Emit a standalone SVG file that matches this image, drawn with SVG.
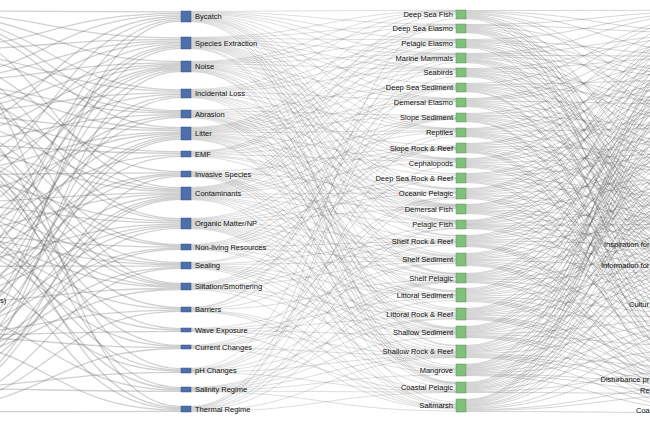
<svg xmlns="http://www.w3.org/2000/svg" width="650" height="433" viewBox="0 0 650 433">
<style>
.lk path{fill:none;stroke:#555;stroke-opacity:.28}
.l1 path{stroke-width:1.3}
.l2 path{stroke-width:.7}
.l3 path{stroke-width:.9}
.bn{fill:#4f6fab;stroke:#36508a;stroke-width:.5}
.gn{fill:#80bf7c;stroke:#5a9656;stroke-width:.5}
text{font-family:"Liberation Sans",Arial,Helvetica,sans-serif;font-size:7.5px;fill:#111}
.e{text-anchor:end}
</style>
<rect width="650" height="433" fill="#fff"/>
<g id="links" class="lk">
<g class="l1">
<path d="M-84 10.8C48 10.8 48 11.8 181 11.8M-84 48.6C48 48.6 48 13.4 181 13.4M-84 78.6C48 78.6 48 14.9 181 14.9M-84 136.6C48 136.6 48 16.5 181 16.5M-84 193.6C48 193.6 48 18.1 181 18.1M-84 285.7C48 285.7 48 19.6 181 19.6M-84 373.4C48 373.4 48 21.2 181 21.2"/>
<path d="M-84 12.4C48 12.4 48 37.8 181 37.8M-84 49.7C48 49.7 48 39.3 181 39.3M-84 79.9C48 79.9 48 40.8 181 40.8M-84 111.4C48 111.4 48 42.3 181 42.3M-84 169.3C48 169.3 48 43.8 181 43.8M-84 254.7C48 254.7 48 45.3 181 45.3M-84 287.2C48 287.2 48 46.8 181 46.8M-84 349.3C48 349.3 48 48.3 181 48.3"/>
<path d="M-84 14C48 14 48 61.6 181 61.6M-84 81.2C48 81.2 48 62.8 181 62.8M-84 112.4C48 112.4 48 64.1 181 64.1M-84 139.2C48 139.2 48 65.3 181 65.3M-84 195.9C48 195.9 48 66.5 181 66.5M-84 225.9C48 225.9 48 67.7 181 67.7M-84 255.9C48 255.9 48 68.9 181 68.9M-84 323.5C48 323.5 48 70.2 181 70.2M-84 399.9C48 399.9 48 71.4 181 71.4"/>
<path d="M-84 15.5C48 15.5 48 89.8 181 89.8M-84 52.1C48 52.1 48 91.3 181 91.3M-84 113.3C48 113.3 48 92.8 181 92.8M-84 171.1C48 171.1 48 94.3 181 94.3M-84 290.1C48 290.1 48 95.8 181 95.8M-84 376.1C48 376.1 48 97.3 181 97.3"/>
<path d="M-84 17.1C48 17.1 48 110.7 181 110.7M-84 53.2C48 53.2 48 112 181 112M-84 83.7C48 83.7 48 113.3 181 113.3M-84 141.7C48 141.7 48 114.7 181 114.7M-84 228.2C48 228.2 48 116 181 116M-84 291.6C48 291.6 48 117.3 181 117.3"/>
<path d="M-84 18.7C48 18.7 48 127.7 181 127.7M-84 84.9C48 84.9 48 129.2 181 129.2M-84 115.2C48 115.2 48 130.6 181 130.6M-84 172.9C48 172.9 48 132.1 181 132.1M-84 199.4C48 199.4 48 133.5 181 133.5M-84 259.4C48 259.4 48 134.9 181 134.9M-84 326.5C48 326.5 48 136.4 181 136.4M-84 352.9C48 352.9 48 137.8 181 137.8M-84 377.9C48 377.9 48 139.3 181 139.3"/>
<path d="M-84 116.2C48 116.2 48 151.8 181 151.8M-84 144.2C48 144.2 48 153.3 181 153.3M-84 230.5C48 230.5 48 154.8 181 154.8M-84 327.5C48 327.5 48 156.3 181 156.3"/>
<path d="M-84 56.7C48 56.7 48 171.6 181 171.6M-84 174.7C48 174.7 48 172.8 181 172.8M-84 261.7C48 261.7 48 174 181 174M-84 296C48 296 48 175.2 181 175.2M-84 403.6C48 403.6 48 176.4 181 176.4"/>
<path d="M-84 23.4C48 23.4 48 187.7 181 187.7M-84 88.7C48 88.7 48 189 181 189M-84 118.1C48 118.1 48 190.3 181 190.3M-84 146.7C48 146.7 48 191.6 181 191.6M-84 202.9C48 202.9 48 192.9 181 192.9M-84 232.9C48 232.9 48 194.2 181 194.2M-84 297.5C48 297.5 48 195.5 181 195.5M-84 355.6C48 355.6 48 196.8 181 196.8M-84 380.6C48 380.6 48 198.1 181 198.1M-84 404.3C48 404.3 48 199.4 181 199.4"/>
<path d="M-84 59C48 59 48 218.7 181 218.7M-84 90C48 90 48 220.1 181 220.1M-84 176.5C48 176.5 48 221.4 181 221.4M-84 204C48 204 48 222.8 181 222.8M-84 264C48 264 48 224.2 181 224.2M-84 299C48 299 48 225.6 181 225.6M-84 330.5C48 330.5 48 226.9 181 226.9M-84 381.5C48 381.5 48 228.3 181 228.3"/>
<path d="M-84 120C48 120 48 244.6 181 244.6M-84 149.2C48 149.2 48 245.8 181 245.8M-84 235.2C48 235.2 48 247 181 247M-84 331.5C48 331.5 48 248.2 181 248.2M-84 357.3C48 357.3 48 249.4 181 249.4"/>
<path d="M-84 150.5C48 150.5 48 262.6 181 262.6M-84 206.3C48 206.3 48 263.8 181 263.8M-84 236.3C48 236.3 48 264.9 181 264.9M-84 266.3C48 266.3 48 266.1 181 266.1M-84 358.2C48 358.2 48 267.3 181 267.3M-84 406.5C48 406.5 48 268.4 181 268.4"/>
<path d="M-84 62.5C48 62.5 48 283.5 181 283.5M-84 121.9C48 121.9 48 284.5 181 284.5M-84 151.8C48 151.8 48 285.5 181 285.5M-84 207.5C48 207.5 48 286.5 181 286.5M-84 237.5C48 237.5 48 287.5 181 287.5M-84 303.4C48 303.4 48 288.5 181 288.5M-84 359.1C48 359.1 48 289.5 181 289.5"/>
<path d="M-84 153C48 153 48 307.6 181 307.6M-84 238.7C48 238.7 48 308.9 181 308.9M-84 334.5C48 334.5 48 310.1 181 310.1M-84 408C48 408 48 311.4 181 311.4"/>
<path d="M-84 154.3C48 154.3 48 328.7 181 328.7M-84 239.8C48 239.8 48 330 181 330M-84 335.5C48 335.5 48 331.3 181 331.3"/>
<path d="M-84 155.5C48 155.5 48 345.5 181 345.5M-84 241C48 241 48 346.5 181 346.5M-84 336.5C48 336.5 48 347.5 181 347.5M-84 409.5C48 409.5 48 348.5 181 348.5"/>
<path d="M-84 98.8C48 98.8 48 368.6 181 368.6M-84 212.1C48 212.1 48 369.9 181 369.9M-84 272.1C48 272.1 48 371.1 181 371.1M-84 387.7C48 387.7 48 372.4 181 372.4"/>
<path d="M-84 126.6C48 126.6 48 387.6 181 387.6M-84 213.3C48 213.3 48 388.9 181 388.9M-84 310.7C48 310.7 48 390.1 181 390.1M-84 388.6C48 388.6 48 391.4 181 391.4"/>
<path d="M-84 39.2C48 39.2 48 406.6 181 406.6M-84 184.5C48 184.5 48 407.8 181 407.8M-84 244.5C48 244.5 48 409 181 409M-84 339.5C48 339.5 48 410.2 181 410.2M-84 411.7C48 411.7 48 411.4 181 411.4"/>
</g>
<g class="l2">
<path d="M191 11.3C323 11.3 323 10.3 456 10.3M191 12C323 12 323 24.3 456 24.3M191 12.7C323 12.7 323 39.3 456 39.3M191 13.4C323 13.4 323 53.3 456 53.3M191 14.1C323 14.1 323 68.3 456 68.3M191 14.8C323 14.8 323 98.3 456 98.3M191 15.5C323 15.5 323 128.3 456 128.3M191 16.2C323 16.2 323 158.3 456 158.3M191 16.8C323 16.8 323 188.3 456 188.3M191 17.5C323 17.5 323 204.3 456 204.3M191 18.2C323 18.2 323 220.3 456 220.3M191 18.9C323 18.9 323 235.3 456 235.3M191 19.6C323 19.6 323 273.3 456 273.3M191 20.3C323 20.3 323 308.3 456 308.3M191 21C323 21 323 345.3 456 345.3M191 21.7C323 21.7 323 382.3 456 382.3"/>
<path d="M191 37.3C323 37.3 323 10.8 456 10.8M191 38C323 38 323 24.8 456 24.8M191 38.6C323 38.6 323 39.8 456 39.8M191 39.3C323 39.3 323 53.8 456 53.8M191 40C323 40 323 68.8 456 68.8M191 40.6C323 40.6 323 83.8 456 83.8M191 41.3C323 41.3 323 98.8 456 98.8M191 42C323 42 323 128.8 456 128.8M191 42.6C323 42.6 323 158.8 456 158.8M191 43.3C323 43.3 323 173.8 456 173.8M191 44C323 44 323 188.9 456 188.9M191 44.6C323 44.6 323 204.8 456 204.8M191 45.3C323 45.3 323 220.8 456 220.8M191 46C323 46 323 235.9 456 235.9M191 46.6C323 46.6 323 254 456 254M191 47.3C323 47.3 323 273.8 456 273.8M191 48C323 48 323 346 456 346M191 48.6C323 48.6 323 382.9 456 382.9"/>
<path d="M191 61.3C323 61.3 323 11.3 456 11.3M191 62C323 62 323 25.3 456 25.3M191 62.7C323 62.7 323 40.3 456 40.3M191 63.4C323 63.4 323 54.3 456 54.3M191 64.1C323 64.1 323 69.3 456 69.3M191 64.8C323 64.8 323 99.3 456 99.3M191 65.5C323 65.5 323 129.3 456 129.3M191 66.2C323 66.2 323 159.3 456 159.3M191 66.8C323 66.8 323 189.4 456 189.4M191 67.5C323 67.5 323 205.3 456 205.3M191 68.2C323 68.2 323 221.3 456 221.3M191 68.9C323 68.9 323 274.3 456 274.3M191 69.6C323 69.6 323 309.6 456 309.6M191 70.3C323 70.3 323 327.6 456 327.6M191 71C323 71 323 365.6 456 365.6M191 71.7C323 71.7 323 383.4 456 383.4"/>
<path d="M191 89.3C323 89.3 323 11.8 456 11.8M191 90C323 90 323 40.8 456 40.8M191 90.7C323 90.7 323 54.8 456 54.8M191 91.4C323 91.4 323 69.8 456 69.8M191 92.1C323 92.1 323 99.8 456 99.8M191 92.8C323 92.8 323 129.8 456 129.8M191 93.5C323 93.5 323 159.8 456 159.8M191 94.2C323 94.2 323 205.8 456 205.8M191 94.9C323 94.9 323 221.8 456 221.8M191 95.6C323 95.6 323 255.3 456 255.3M191 96.3C323 96.3 323 290.6 456 290.6M191 97C323 97 323 328.2 456 328.2M191 97.7C323 97.7 323 384 456 384"/>
<path d="M191 110.3C323 110.3 323 85.3 456 85.3M191 111C323 111 323 115.3 456 115.3M191 111.7C323 111.7 323 145.3 456 145.3M191 112.3C323 112.3 323 175.3 456 175.3M191 113C323 113 323 206.3 456 206.3M191 113.7C323 113.7 323 237.8 456 237.8M191 114.3C323 114.3 323 256 456 256M191 115C323 115 323 291.3 456 291.3M191 115.7C323 115.7 323 310.8 456 310.8M191 116.3C323 116.3 323 328.8 456 328.8M191 117C323 117 323 348 456 348M191 117.7C323 117.7 323 402 456 402"/>
<path d="M191 127.3C323 127.3 323 12.8 456 12.8M191 128C323 128 323 26.8 456 26.8M191 128.7C323 128.7 323 41.8 456 41.8M191 129.4C323 129.4 323 55.8 456 55.8M191 130.1C323 130.1 323 70.8 456 70.8M191 130.8C323 130.8 323 85.8 456 85.8M191 131.4C323 131.4 323 100.8 456 100.8M191 132.1C323 132.1 323 115.8 456 115.8M191 132.8C323 132.8 323 130.8 456 130.8M191 133.5C323 133.5 323 160.8 456 160.8M191 134.2C323 134.2 323 191.2 456 191.2M191 134.9C323 134.9 323 206.8 456 206.8M191 135.5C323 135.5 323 222.8 456 222.8M191 136.2C323 136.2 323 256.7 456 256.7M191 136.9C323 136.9 323 275.8 456 275.8M191 137.6C323 137.6 323 292 456 292M191 138.3C323 138.3 323 329.5 456 329.5M191 139C323 139 323 367.5 456 367.5M191 139.7C323 139.7 323 385.2 456 385.2"/>
<path d="M191 151.3C323 151.3 323 27.3 456 27.3M191 152C323 152 323 42.3 456 42.3M191 152.7C323 152.7 323 56.3 456 56.3M191 153.3C323 153.3 323 101.3 456 101.3M191 154C323 154 323 131.3 456 131.3M191 154.7C323 154.7 323 161.3 456 161.3M191 155.3C323 155.3 323 207.3 456 207.3M191 156C323 156 323 223.3 456 223.3M191 156.7C323 156.7 323 276.3 456 276.3"/>
<path d="M191 171.3C323 171.3 323 146.8 456 146.8M191 172C323 172 323 192.3 456 192.3M191 172.7C323 172.7 323 239.7 456 239.7M191 173.3C323 173.3 323 258.1 456 258.1M191 174C323 174 323 312.7 456 312.7M191 174.7C323 174.7 323 330.7 456 330.7M191 175.3C323 175.3 323 350.1 456 350.1M191 176C323 176 323 368.7 456 368.7M191 176.7C323 176.7 323 404.1 456 404.1"/>
<path d="M191 187.3C323 187.3 323 14.3 456 14.3M191 188C323 188 323 28.3 456 28.3M191 188.7C323 188.7 323 43.3 456 43.3M191 189.4C323 189.4 323 57.3 456 57.3M191 190.1C323 190.1 323 72.3 456 72.3M191 190.8C323 190.8 323 87.3 456 87.3M191 191.4C323 191.4 323 117.3 456 117.3M191 192.1C323 192.1 323 132.3 456 132.3M191 192.8C323 192.8 323 147.3 456 147.3M191 193.5C323 193.5 323 162.3 456 162.3M191 194.2C323 194.2 323 192.9 456 192.9M191 194.9C323 194.9 323 208.3 456 208.3M191 195.5C323 195.5 323 224.3 456 224.3M191 196.2C323 196.2 323 258.7 456 258.7M191 196.9C323 196.9 323 277.3 456 277.3M191 197.6C323 197.6 323 294.2 456 294.2M191 198.3C323 198.3 323 331.3 456 331.3M191 199C323 199 323 369.3 456 369.3M191 199.7C323 199.7 323 404.7 456 404.7"/>
<path d="M191 218.3C323 218.3 323 87.8 456 87.8M191 219C323 219 323 117.8 456 117.8M191 219.7C323 219.7 323 147.8 456 147.8M191 220.4C323 220.4 323 177.8 456 177.8M191 221.1C323 221.1 323 193.4 456 193.4M191 221.8C323 221.8 323 208.8 456 208.8M191 222.5C323 222.5 323 241 456 241M191 223.2C323 223.2 323 259.4 456 259.4M191 223.8C323 223.8 323 277.8 456 277.8M191 224.5C323 224.5 323 294.9 456 294.9M191 225.2C323 225.2 323 314 456 314M191 225.9C323 225.9 323 332 456 332M191 226.6C323 226.6 323 351.4 456 351.4M191 227.3C323 227.3 323 370 456 370M191 228C323 228 323 387.4 456 387.4M191 228.7C323 228.7 323 405.4 456 405.4"/>
<path d="M191 244.3C323 244.3 323 88.3 456 88.3M191 245C323 245 323 118.3 456 118.3M191 245.7C323 245.7 323 148.3 456 148.3M191 246.3C323 246.3 323 178.3 456 178.3M191 247C323 247 323 241.6 456 241.6M191 247.7C323 247.7 323 260.1 456 260.1M191 248.3C323 248.3 323 295.6 456 295.6M191 249C323 249 323 332.6 456 332.6M191 249.7C323 249.7 323 352.1 456 352.1"/>
<path d="M191 262.4C323 262.4 323 118.8 456 118.8M191 263.1C323 263.1 323 148.8 456 148.8M191 263.8C323 263.8 323 242.2 456 242.2M191 264.5C323 264.5 323 260.8 456 260.8M191 265.2C323 265.2 323 296.3 456 296.3M191 265.9C323 265.9 323 315.2 456 315.2M191 266.6C323 266.6 323 333.2 456 333.2M191 267.3C323 267.3 323 352.8 456 352.8M191 268C323 268 323 371.2 456 371.2M191 268.7C323 268.7 323 406.8 456 406.8"/>
<path d="M191 283.4C323 283.4 323 89.3 456 89.3M191 284.1C323 284.1 323 119.3 456 119.3M191 284.8C323 284.8 323 149.3 456 149.3M191 285.5C323 285.5 323 179.3 456 179.3M191 286.2C323 286.2 323 242.9 456 242.9M191 286.9C323 286.9 323 261.5 456 261.5M191 287.6C323 287.6 323 315.9 456 315.9M191 288.3C323 288.3 323 333.9 456 333.9M191 289C323 289 323 353.5 456 353.5M191 289.7C323 289.7 323 407.5 456 407.5"/>
<path d="M191 307.3C323 307.3 323 45.8 456 45.8M191 307.9C323 307.9 323 59.8 456 59.8M191 308.6C323 308.6 323 134.8 456 134.8M191 309.2C323 309.2 323 226.8 456 226.8M191 309.8C323 309.8 323 279.8 456 279.8M191 310.4C323 310.4 323 372.5 456 372.5M191 311.1C323 311.1 323 389.7 456 389.7M191 311.7C323 311.7 323 408.1 456 408.1"/>
<path d="M191 328.3C323 328.3 323 262.8 456 262.8M191 329C323 329 323 298.5 456 298.5M191 329.7C323 329.7 323 317.1 456 317.1M191 330.3C323 330.3 323 335.1 456 335.1M191 331C323 331 323 354.8 456 354.8M191 331.7C323 331.7 323 408.8 456 408.8"/>
<path d="M191 345.3C323 345.3 323 196.9 456 196.9M191 346C323 346 323 244.8 456 244.8M191 346.7C323 346.7 323 263.5 456 263.5M191 347.3C323 347.3 323 280.8 456 280.8M191 348C323 348 323 355.5 456 355.5M191 348.7C323 348.7 323 390.9 456 390.9"/>
<path d="M191 368.3C323 368.3 323 47.3 456 47.3M191 368.9C323 368.9 323 166.3 456 166.3M191 369.6C323 369.6 323 197.4 456 197.4M191 370.2C323 370.2 323 228.3 456 228.3M191 370.8C323 370.8 323 281.3 456 281.3M191 371.4C323 371.4 323 318.4 456 318.4M191 372.1C323 372.1 323 356.2 456 356.2M191 372.7C323 372.7 323 391.4 456 391.4"/>
<path d="M191 387.3C323 387.3 323 281.8 456 281.8M191 387.9C323 387.9 323 300.6 456 300.6M191 388.6C323 388.6 323 319 456 319M191 389.2C323 389.2 323 337 456 337M191 389.8C323 389.8 323 356.9 456 356.9M191 390.4C323 390.4 323 375 456 375M191 391.1C323 391.1 323 392 456 392M191 391.7C323 391.7 323 410.9 456 410.9"/>
<path d="M191 406.3C323 406.3 323 18.7 456 18.7M191 407C323 407 323 62.3 456 62.3M191 407.7C323 407.7 323 76.7 456 76.7M191 408.3C323 408.3 323 136.7 456 136.7M191 409C323 409 323 198.6 456 198.6M191 409.7C323 409.7 323 228.7 456 228.7M191 410.3C323 410.3 323 282.3 456 282.3M191 411C323 411 323 357.5 456 357.5M191 411.7C323 411.7 323 392.6 456 392.6"/>
</g>
<g class="l3">
<path d="M466 10.5C598 10.5 598 10.3 731 10.3M466 11.4C598 11.4 598 32.3 731 32.3M466 12.3C598 12.3 598 54.3 731 54.3M466 13.2C598 13.2 598 100.3 731 100.3M466 14.1C598 14.1 598 122.4 731 122.4M466 15C598 15 598 192.3 731 192.3M466 15.9C598 15.9 598 238.2 731 238.2M466 16.8C598 16.8 598 256.4 731 256.4M466 17.7C598 17.7 598 282.9 731 282.9M466 18.6C598 18.6 598 356.3 731 356.3"/>
<path d="M466 24.5C598 24.5 598 11 731 11M466 25.4C598 25.4 598 33 731 33M466 26.3C598 26.3 598 77.1 731 77.1M466 27.2C598 27.2 598 123.1 731 123.1M466 28.1C598 28.1 598 169.1 731 169.1M466 29C598 29 598 215.1 731 215.1M466 29.9C598 29.9 598 238.7 731 238.7M466 30.8C598 30.8 598 257.2 731 257.2M466 31.7C598 31.7 598 284.6 731 284.6M466 32.6C598 32.6 598 333.1 731 333.1"/>
<path d="M466 39.5C598 39.5 598 11.6 731 11.6M466 40.4C598 40.4 598 55.6 731 55.6M466 41.3C598 41.3 598 77.8 731 77.8M466 42.2C598 42.2 598 101.6 731 101.6M466 43.1C598 43.1 598 147.6 731 147.6M466 44C598 44 598 193.6 731 193.6M466 44.9C598 44.9 598 239.2 731 239.2M466 45.8C598 45.8 598 258 731 258M466 46.7C598 46.7 598 286.4 731 286.4M466 47.6C598 47.6 598 374.2 731 374.2"/>
<path d="M466 53.5C598 53.5 598 12.2 731 12.2M466 54.4C598 54.4 598 34.2 731 34.2M466 55.3C598 55.3 598 56.2 731 56.2M466 56.2C598 56.2 598 78.5 731 78.5M466 57.1C598 57.1 598 124.5 731 124.5M466 58C598 58 598 148.2 731 148.2M466 58.9C598 58.9 598 216.5 731 216.5M466 59.8C598 59.8 598 239.7 731 239.7M466 60.7C598 60.7 598 258.8 731 258.8M466 61.6C598 61.6 598 288.2 731 288.2M466 62.5C598 62.5 598 358 731 358"/>
<path d="M466 68.5C598 68.5 598 34.9 731 34.9M466 69.4C598 69.4 598 56.9 731 56.9M466 70.3C598 70.3 598 102.9 731 102.9M466 71.2C598 71.2 598 125.2 731 125.2M466 72.1C598 72.1 598 171.2 731 171.2M466 73C598 73 598 194.9 731 194.9M466 73.9C598 73.9 598 240.2 731 240.2M466 74.8C598 74.8 598 259.6 731 259.6M466 75.7C598 75.7 598 289.9 731 289.9M466 76.6C598 76.6 598 335.2 731 335.2"/>
<path d="M466 83.5C598 83.5 598 13.5 731 13.5M466 84.4C598 84.4 598 80 731 80M466 85.3C598 85.3 598 103.5 731 103.5M466 86.2C598 86.2 598 149.5 731 149.5M466 87.1C598 87.1 598 172 731 172M466 88C598 88 598 218 731 218M466 88.9C598 88.9 598 260.4 731 260.4M466 89.8C598 89.8 598 291.7 731 291.7M466 90.7C598 90.7 598 375.6 731 375.6M466 91.6C598 91.6 598 388.5 731 388.5"/>
<path d="M466 98.5C598 98.5 598 14.2 731 14.2M466 99.4C598 99.4 598 36.2 731 36.2M466 100.3C598 100.3 598 58.2 731 58.2M466 101.2C598 101.2 598 104.2 731 104.2M466 102.1C598 102.1 598 150.2 731 150.2M466 103C598 103 598 196.2 731 196.2M466 103.9C598 103.9 598 241.1 731 241.1M466 104.8C598 104.8 598 261.2 731 261.2M466 105.7C598 105.7 598 293.4 731 293.4M466 106.6C598 106.6 598 359.6 731 359.6"/>
<path d="M466 113.5C598 113.5 598 36.8 731 36.8M466 114.4C598 114.4 598 81.4 731 81.4M466 115.3C598 115.3 598 127.4 731 127.4M466 116.2C598 116.2 598 150.8 731 150.8M466 117.1C598 117.1 598 196.8 731 196.8M466 118C598 118 598 219.4 731 219.4M466 118.9C598 118.9 598 262 731 262M466 119.8C598 119.8 598 295.2 731 295.2M466 120.7C598 120.7 598 376.6 731 376.6M466 121.6C598 121.6 598 389.1 731 389.1"/>
<path d="M466 128.5C598 128.5 598 15.4 731 15.4M466 129.4C598 129.4 598 59.4 731 59.4M466 130.3C598 130.3 598 82.1 731 82.1M466 131.2C598 131.2 598 128.1 731 128.1M466 132.1C598 132.1 598 174.1 731 174.1M466 133C598 133 598 220.1 731 220.1M466 133.9C598 133.9 598 242.1 731 242.1M466 134.8C598 134.8 598 262.8 731 262.8M466 135.7C598 135.7 598 297 731 297M466 136.6C598 136.6 598 338.1 731 338.1"/>
<path d="M466 143.5C598 143.5 598 38.1 731 38.1M466 144.4C598 144.4 598 60.1 731 60.1M466 145.3C598 145.3 598 106.1 731 106.1M466 146.2C598 146.2 598 152.1 731 152.1M466 147.1C598 147.1 598 174.8 731 174.8M466 148C598 148 598 220.8 731 220.8M466 148.9C598 148.9 598 263.6 731 263.6M466 149.8C598 149.8 598 298.7 731 298.7M466 150.7C598 150.7 598 361.3 731 361.3M466 151.6C598 151.6 598 377.6 731 377.6M466 152.5C598 152.5 598 404.3 731 404.3"/>
<path d="M466 158.5C598 158.5 598 16.7 731 16.7M466 159.5C598 159.5 598 38.7 731 38.7M466 160.5C598 160.5 598 83.6 731 83.6M466 161.5C598 161.5 598 106.7 731 106.7M466 162.5C598 162.5 598 152.7 731 152.7M466 163.5C598 163.5 598 198.7 731 198.7M466 164.5C598 164.5 598 243 731 243M466 165.5C598 165.5 598 264.4 731 264.4M466 166.5C598 166.5 598 300.5 731 300.5M466 167.5C598 167.5 598 339.6 731 339.6"/>
<path d="M466 173.5C598 173.5 598 61.4 731 61.4M466 174.5C598 174.5 598 84.3 731 84.3M466 175.5C598 175.5 598 130.3 731 130.3M466 176.5C598 176.5 598 153.4 731 153.4M466 177.5C598 177.5 598 199.4 731 199.4M466 178.5C598 178.5 598 222.3 731 222.3M466 179.5C598 179.5 598 265.2 731 265.2M466 180.5C598 180.5 598 302.2 731 302.2M466 181.5C598 181.5 598 362.4 731 362.4M466 182.5C598 182.5 598 390.2 731 390.2"/>
<path d="M466 188.5C598 188.5 598 18 731 18M466 189.5C598 189.5 598 40 731 40M466 190.5C598 190.5 598 62 731 62M466 191.5C598 191.5 598 108 731 108M466 192.5C598 192.5 598 131 731 131M466 193.5C598 193.5 598 177 731 177M466 194.5C598 194.5 598 223 731 223M466 195.5C598 195.5 598 244 731 244M466 196.5C598 196.5 598 304 731 304M466 197.5C598 197.5 598 341 731 341M466 198.5C598 198.5 598 379 731 379"/>
<path d="M466 204.5C598 204.5 598 18.6 731 18.6M466 205.4C598 205.4 598 40.6 731 40.6M466 206.3C598 206.3 598 85.7 731 85.7M466 207.2C598 207.2 598 108.6 731 108.6M466 208.1C598 208.1 598 154.6 731 154.6M466 209C598 209 598 177.7 731 177.7M466 209.9C598 209.9 598 223.7 731 223.7M466 210.8C598 210.8 598 244.5 731 244.5M466 211.7C598 211.7 598 266.8 731 266.8M466 212.6C598 212.6 598 305.8 731 305.8M466 213.5C598 213.5 598 363.6 731 363.6"/>
<path d="M466 220.4C598 220.4 598 19.3 731 19.3M466 221.2C598 221.2 598 63.3 731 63.3M466 222C598 222 598 86.4 731 86.4M466 222.9C598 222.9 598 132.4 731 132.4M466 223.7C598 223.7 598 155.3 731 155.3M466 224.5C598 224.5 598 201.3 731 201.3M466 225.3C598 225.3 598 224.4 731 224.4M466 226.1C598 226.1 598 245 731 245M466 227C598 227 598 267.6 731 267.6M466 227.8C598 227.8 598 307.5 731 307.5M466 228.6C598 228.6 598 342.4 731 342.4"/>
<path d="M466 235.5C598 235.5 598 41.9 731 41.9M466 236.4C598 236.4 598 87.2 731 87.2M466 237.3C598 237.3 598 109.9 731 109.9M466 238.2C598 238.2 598 155.9 731 155.9M466 239.2C598 239.2 598 179.2 731 179.2M466 240.1C598 240.1 598 225.2 731 225.2M466 241C598 241 598 245.4 731 245.4M466 241.9C598 241.9 598 268.4 731 268.4M466 242.8C598 242.8 598 309.3 731 309.3M466 243.8C598 243.8 598 364.7 731 364.7M466 244.7C598 244.7 598 380.4 731 380.4M466 245.6C598 245.6 598 391.3 731 391.3M466 246.5C598 246.5 598 407.7 731 407.7"/>
<path d="M466 253.5C598 253.5 598 20.6 731 20.6M466 254.5C598 254.5 598 64.6 731 64.6M466 255.5C598 255.5 598 87.9 731 87.9M466 256.5C598 256.5 598 133.9 731 133.9M466 257.5C598 257.5 598 179.9 731 179.9M466 258.5C598 258.5 598 202.6 731 202.6M466 259.5C598 259.5 598 245.9 731 245.9M466 260.5C598 260.5 598 269.2 731 269.2M466 261.5C598 261.5 598 311 731 311M466 262.5C598 262.5 598 343.9 731 343.9M466 263.5C598 263.5 598 380.9 731 380.9M466 264.5C598 264.5 598 391.6 731 391.6M466 265.5C598 265.5 598 408.2 731 408.2"/>
<path d="M466 273.5C598 273.5 598 43.2 731 43.2M466 274.4C598 274.4 598 65.2 731 65.2M466 275.3C598 275.3 598 111.2 731 111.2M466 276.2C598 276.2 598 134.6 731 134.6M466 277.1C598 277.1 598 180.6 731 180.6M466 278C598 278 598 203.2 731 203.2M466 278.9C598 278.9 598 246.4 731 246.4M466 279.8C598 279.8 598 270 731 270M466 280.7C598 280.7 598 312.8 731 312.8M466 281.6C598 281.6 598 365.8 731 365.8M466 282.5C598 282.5 598 391.9 731 391.9"/>
<path d="M466 288.5C598 288.5 598 21.8 731 21.8M466 289.6C598 289.6 598 65.8 731 65.8M466 290.7C598 290.7 598 89.3 731 89.3M466 291.8C598 291.8 598 135.3 731 135.3M466 292.8C598 292.8 598 157.8 731 157.8M466 293.9C598 293.9 598 203.8 731 203.8M466 295C598 295 598 227.3 731 227.3M466 296.1C598 296.1 598 270.8 731 270.8M466 297.2C598 297.2 598 314.6 731 314.6M466 298.2C598 298.2 598 345.3 731 345.3M466 299.3C598 299.3 598 381.9 731 381.9M466 300.4C598 300.4 598 392.2 731 392.2M466 301.5C598 301.5 598 409.4 731 409.4"/>
<path d="M466 308.5C598 308.5 598 44.5 731 44.5M466 309.4C598 309.4 598 90 731 90M466 310.3C598 310.3 598 112.5 731 112.5M466 311.2C598 311.2 598 158.5 731 158.5M466 312.2C598 312.2 598 182 731 182M466 313.1C598 313.1 598 204.5 731 204.5M466 314C598 314 598 247.4 731 247.4M466 314.9C598 314.9 598 271.6 731 271.6M466 315.8C598 315.8 598 316.3 731 316.3M466 316.8C598 316.8 598 366.9 731 366.9M466 317.7C598 317.7 598 382.4 731 382.4M466 318.6C598 318.6 598 392.5 731 392.5M466 319.5C598 319.5 598 409.9 731 409.9"/>
<path d="M466 326.5C598 326.5 598 23.1 731 23.1M466 327.4C598 327.4 598 67.1 731 67.1M466 328.3C598 328.3 598 90.8 731 90.8M466 329.2C598 329.2 598 136.8 731 136.8M466 330.2C598 330.2 598 159.1 731 159.1M466 331.1C598 331.1 598 205.1 731 205.1M466 332C598 332 598 228.8 731 228.8M466 332.9C598 332.9 598 272.4 731 272.4M466 333.8C598 333.8 598 318.1 731 318.1M466 334.8C598 334.8 598 346.8 731 346.8M466 335.7C598 335.7 598 382.8 731 382.8M466 336.6C598 336.6 598 392.7 731 392.7M466 337.5C598 337.5 598 410.5 731 410.5"/>
<path d="M466 345.5C598 345.5 598 45.8 731 45.8M466 346.5C598 346.5 598 67.8 731 67.8M466 347.5C598 347.5 598 113.8 731 113.8M466 348.5C598 348.5 598 137.5 731 137.5M466 349.5C598 349.5 598 183.5 731 183.5M466 350.5C598 350.5 598 229.5 731 229.5M466 351.5C598 351.5 598 248.3 731 248.3M466 352.5C598 352.5 598 273.2 731 273.2M466 353.5C598 353.5 598 319.8 731 319.8M466 354.5C598 354.5 598 368 731 368M466 355.5C598 355.5 598 383.3 731 383.3M466 356.5C598 356.5 598 393 731 393M466 357.5C598 357.5 598 411 731 411"/>
<path d="M466 364.4C598 364.4 598 24.4 731 24.4M466 365.3C598 365.3 598 46.4 731 46.4M466 366.1C598 366.1 598 92.2 731 92.2M466 367C598 367 598 114.4 731 114.4M466 367.9C598 367.9 598 160.4 731 160.4M466 368.7C598 368.7 598 184.2 731 184.2M466 369.6C598 369.6 598 230.2 731 230.2M466 370.4C598 370.4 598 248.8 731 248.8M466 371.3C598 371.3 598 274 731 274M466 372.1C598 372.1 598 321.6 731 321.6M466 373C598 373 598 348.2 731 348.2M466 373.9C598 373.9 598 383.8 731 383.8M466 374.7C598 374.7 598 393.3 731 393.3M466 375.6C598 375.6 598 411.6 731 411.6"/>
<path d="M466 382.5C598 382.5 598 25 731 25M466 383.4C598 383.4 598 69 731 69M466 384.3C598 384.3 598 92.9 731 92.9M466 385.2C598 385.2 598 115 731 115M466 386.1C598 386.1 598 161 731 161M466 387C598 387 598 207 731 207M466 388C598 388 598 230.9 731 230.9M466 388.9C598 388.9 598 249.3 731 249.3M466 389.8C598 389.8 598 274.8 731 274.8M466 390.7C598 390.7 598 323.4 731 323.4M466 391.6C598 391.6 598 369.2 731 369.2M466 392.5C598 392.5 598 393.6 731 393.6"/>
<path d="M466 399.5C598 399.5 598 47.7 731 47.7M466 400.4C598 400.4 598 69.7 731 69.7M466 401.3C598 401.3 598 93.6 731 93.6M466 402.2C598 402.2 598 139.6 731 139.6M466 403.2C598 403.2 598 161.7 731 161.7M466 404.1C598 404.1 598 185.6 731 185.6M466 405C598 405 598 231.6 731 231.6M466 405.9C598 405.9 598 249.8 731 249.8M466 406.8C598 406.8 598 275.6 731 275.6M466 407.8C598 407.8 598 325.1 731 325.1M466 408.7C598 408.7 598 349.6 731 349.6M466 409.6C598 409.6 598 384.8 731 384.8M466 410.5C598 410.5 598 393.9 731 393.9M466 411.5C598 411.5 598 412.7 731 412.7"/>
</g>
</g>
<g id="node-bycatch"><rect class="bn" x="181" y="11" width="10" height="11"/><text x="195" y="19.2">Bycatch</text></g>
<g id="node-species-extraction"><rect class="bn" x="181" y="37" width="10" height="12"/><text x="195" y="45.7">Species Extraction</text></g>
<g id="node-noise"><rect class="bn" x="181" y="61" width="10" height="11"/><text x="195" y="69.2">Noise</text></g>
<g id="node-incidental-loss"><rect class="bn" x="181" y="89" width="10" height="9"/><text x="195" y="96.2">Incidental Loss</text></g>
<g id="node-abrasion"><rect class="bn" x="181" y="110" width="10" height="8"/><text x="195" y="116.7">Abrasion</text></g>
<g id="node-litter"><rect class="bn" x="181" y="127" width="10" height="13"/><text x="195" y="136.2">Litter</text></g>
<g id="node-emf"><rect class="bn" x="181" y="151" width="10" height="6"/><text x="195" y="156.7">EMF</text></g>
<g id="node-invasive-species"><rect class="bn" x="181" y="171" width="10" height="6"/><text x="195" y="176.7">Invasive Species</text></g>
<g id="node-contaminants"><rect class="bn" x="181" y="187" width="10" height="13"/><text x="195" y="196.2">Contaminants</text></g>
<g id="node-organic-matter"><rect class="bn" x="181" y="218" width="10" height="11"/><text x="195" y="226.2">Organic Matter/NP</text></g>
<g id="node-non-living-resources"><rect class="bn" x="181" y="244" width="10" height="6"/><text x="195" y="249.7">Non-living Resources</text></g>
<g id="node-sealing"><rect class="bn" x="181" y="262" width="10" height="7"/><text x="195" y="268.2">Sealing</text></g>
<g id="node-siltation"><rect class="bn" x="181" y="283" width="10" height="7"/><text x="195" y="289.2">Siltation/Smothering</text></g>
<g id="node-barriers"><rect class="bn" x="181" y="307" width="10" height="5"/><text x="195" y="312.2">Barriers</text></g>
<g id="node-wave-exposure"><rect class="bn" x="181" y="328" width="10" height="4"/><text x="195" y="332.7">Wave Exposure</text></g>
<g id="node-current-changes"><rect class="bn" x="181" y="345" width="10" height="4"/><text x="195" y="349.7">Current Changes</text></g>
<g id="node-ph-changes"><rect class="bn" x="181" y="368" width="10" height="5"/><text x="195" y="373.2">pH Changes</text></g>
<g id="node-salinity-regime"><rect class="bn" x="181" y="387" width="10" height="5"/><text x="195" y="392.2">Salinity Regime</text></g>
<g id="node-thermal-regime"><rect class="bn" x="181" y="406" width="10" height="6"/><text x="195" y="411.7">Thermal Regime</text></g>
<g id="node-deep-sea-fish"><rect class="gn" x="456" y="10" width="10" height="9"/><text class="e" x="453" y="17.2">Deep Sea Fish</text></g>
<g id="node-deep-sea-elasmo"><rect class="gn" x="456" y="24" width="10" height="9"/><text class="e" x="453" y="31.2">Deep Sea Elasmo</text></g>
<g id="node-pelagic-elasmo"><rect class="gn" x="456" y="39" width="10" height="9"/><text class="e" x="453" y="46.2">Pelagic Elasmo</text></g>
<g id="node-marine-mammals"><rect class="gn" x="456" y="53" width="10" height="10"/><text class="e" x="453" y="60.7">Marine Mammals</text></g>
<g id="node-seabirds"><rect class="gn" x="456" y="68" width="10" height="9"/><text class="e" x="453" y="75.2">Seabirds</text></g>
<g id="node-deep-sea-sediment"><rect class="gn" x="456" y="83" width="10" height="9"/><text class="e" x="453" y="90.2">Deep Sea Sediment</text></g>
<g id="node-demersal-elasmo"><rect class="gn" x="456" y="98" width="10" height="9"/><text class="e" x="453" y="105.2">Demersal Elasmo</text></g>
<g id="node-slope-sediment"><rect class="gn" x="456" y="113" width="10" height="9"/><text class="e" x="453" y="120.2">Slope Sediment</text></g>
<g id="node-reptiles"><rect class="gn" x="456" y="128" width="10" height="9"/><text class="e" x="453" y="135.2">Reptiles</text></g>
<g id="node-slope-rock-reef"><rect class="gn" x="456" y="143" width="10" height="10"/><text class="e" x="453" y="150.7">Slope Rock &amp; Reef</text></g>
<g id="node-cephalopods"><rect class="gn" x="456" y="158" width="10" height="10"/><text class="e" x="453" y="165.7">Cephalopods</text></g>
<g id="node-deep-sea-rock-reef"><rect class="gn" x="456" y="173" width="10" height="10"/><text class="e" x="453" y="180.7">Deep Sea Rock &amp; Reef</text></g>
<g id="node-oceanic-pelagic"><rect class="gn" x="456" y="188" width="10" height="11"/><text class="e" x="453" y="196.2">Oceanic Pelagic</text></g>
<g id="node-demersal-fish"><rect class="gn" x="456" y="204" width="10" height="10"/><text class="e" x="453" y="211.7">Demersal Fish</text></g>
<g id="node-pelagic-fish"><rect class="gn" x="456" y="220" width="10" height="9"/><text class="e" x="453" y="227.2">Pelagic Fish</text></g>
<g id="node-shelf-rock-reef"><rect class="gn" x="456" y="235" width="10" height="12"/><text class="e" x="453" y="243.7">Shelf Rock &amp; Reef</text></g>
<g id="node-shelf-sediment"><rect class="gn" x="456" y="253" width="10" height="13"/><text class="e" x="453" y="262.2">Shelf Sediment</text></g>
<g id="node-shelf-pelagic"><rect class="gn" x="456" y="273" width="10" height="10"/><text class="e" x="453" y="280.7">Shelf Pelagic</text></g>
<g id="node-littoral-sediment"><rect class="gn" x="456" y="288" width="10" height="14"/><text class="e" x="453" y="297.7">Littoral Sediment</text></g>
<g id="node-littoral-rock-reef"><rect class="gn" x="456" y="308" width="10" height="12"/><text class="e" x="453" y="316.7">Littoral Rock &amp; Reef</text></g>
<g id="node-shallow-sediment"><rect class="gn" x="456" y="326" width="10" height="12"/><text class="e" x="453" y="334.7">Shallow Sediment</text></g>
<g id="node-shallow-rock-reef"><rect class="gn" x="456" y="345" width="10" height="13"/><text class="e" x="453" y="354.2">Shallow Rock &amp; Reef</text></g>
<g id="node-mangrove"><rect class="gn" x="456" y="364" width="10" height="12"/><text class="e" x="453" y="372.7">Mangrove</text></g>
<g id="node-coastal-pelagic"><rect class="gn" x="456" y="382" width="10" height="11"/><text class="e" x="453" y="390.2">Coastal Pelagic</text></g>
<g id="node-saltmarsh"><rect class="gn" x="456" y="399" width="10" height="13"/><text class="e" x="453" y="408.2">Saltmarsh</text></g>
<g id="edge-labels">
<text x="0" y="302.5">s)</text>
<text x="604" y="246.5">Inspiration for</text>
<text x="601" y="268">Information for</text>
<text x="629" y="306.5">Cultur</text>
<text x="600.5" y="381.7">Disturbance pr</text>
<text x="640" y="392.7">Re</text>
<text x="636" y="412.7">Coa</text>
</g>
</svg>
